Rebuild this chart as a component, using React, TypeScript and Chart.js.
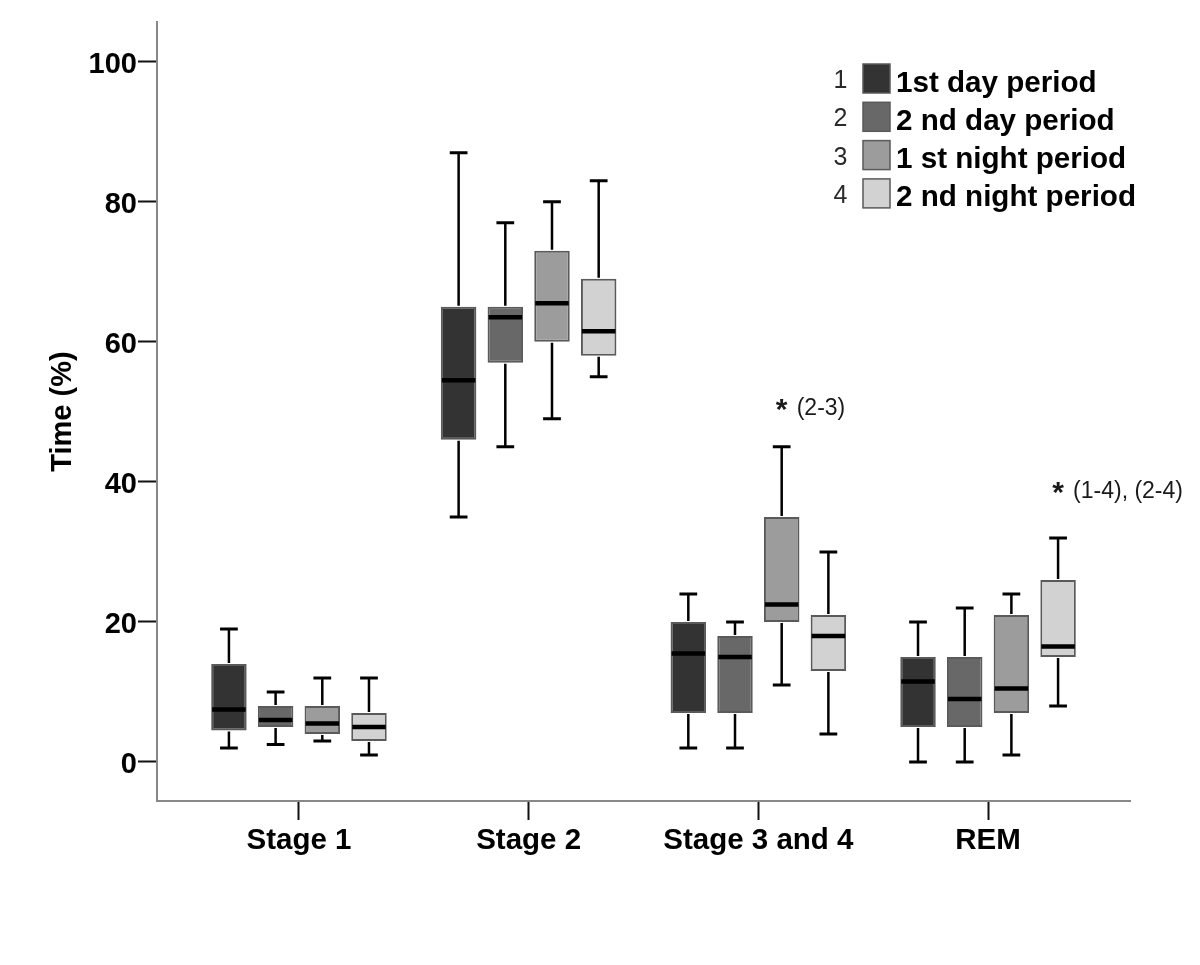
import React, { useEffect, useRef } from 'react';
import { Chart, registerables } from 'chart.js';

Chart.register(...registerables);

// ---- data ----
const categories = ['Stage 1', 'Stage 2', 'Stage 3 and 4', 'REM'];
const periods = ['1st day period', '2 nd day period', '1 st night period', '2 nd night period'];
const periodNumbers = ['1', '2', '3', '4'];
const periodFills = ['#333333', '#686868', '#9c9c9c', '#d2d2d2'];

// each row = one period, columns follow `categories`
const minVals = [
  [2, 35, 2, 0],
  [2.5, 45, 2, 0],
  [3, 49, 11, 1],
  [1, 55, 4, 8],
];
const q1Vals = [
  [4.5, 46, 7, 5],
  [5, 57, 7, 5],
  [4, 60, 20, 7],
  [3, 58, 13, 15],
];
const medianVals = [
  [7.5, 54.5, 15.5, 11.5],
  [6, 63.5, 15, 9],
  [5.5, 65.5, 22.5, 10.5],
  [5, 61.5, 18, 16.5],
];
const q3Vals = [
  [14, 65, 20, 15],
  [8, 65, 18, 15],
  [8, 73, 35, 21],
  [7, 69, 21, 26],
];
const maxVals = [
  [19, 87, 24, 20],
  [10, 77, 20, 22],
  [12, 80, 45, 24],
  [12, 83, 30, 32],
];
const yTickValues = [0, 20, 40, 60, 80, 100];
const xTickValues = [1, 2, 3, 4];

// significance notes
const sigLabels = ['(2-3)', '(1-4), (2-4)'];
const sigCategory = [3, 4];
const sigPeriod = [3, 4];
const sigValue = [49.6, 37.7];

const FONT = "'Liberation Sans', Arial, Helvetica, sans-serif";

const boxPlugin = {
  id: 'boxWhiskers',
  afterDatasetsDraw(chart: any) {
    const { ctx } = chart;
    const y = chart.scales.y;
    ctx.save();
    chart.data.datasets.forEach((_ds: any, di: number) => {
      const meta = chart.getDatasetMeta(di);
      meta.data.forEach((bar: any, ci: number) => {
        const { x, width } = bar.getProps(['x', 'width'], true);
        const yMin = y.getPixelForValue(minVals[di][ci]);
        const yQ1 = y.getPixelForValue(q1Vals[di][ci]);
        const yMed = y.getPixelForValue(medianVals[di][ci]);
        const yQ3 = y.getPixelForValue(q3Vals[di][ci]);
        const yMax = y.getPixelForValue(maxVals[di][ci]);
        const cap = width * 0.5;
        ctx.strokeStyle = '#000';
        ctx.lineCap = 'butt';
        ctx.lineWidth = 2.5;
        ctx.beginPath();
        ctx.moveTo(x, yMax);
        ctx.lineTo(x, yQ3 - 1);
        ctx.moveTo(x, yQ1 + 1);
        ctx.lineTo(x, yMin);
        ctx.stroke();
        ctx.lineWidth = 3;
        ctx.beginPath();
        ctx.moveTo(x - cap / 2, yMax);
        ctx.lineTo(x + cap / 2, yMax);
        ctx.moveTo(x - cap / 2, yMin);
        ctx.lineTo(x + cap / 2, yMin);
        ctx.stroke();
        ctx.lineWidth = 4.5;
        ctx.beginPath();
        ctx.moveTo(x - width / 2 + 1, yMed);
        ctx.lineTo(x + width / 2 - 1, yMed);
        ctx.stroke();
      });
    });
    // significance annotations
    ctx.fillStyle = '#1a1a1a';
    ctx.textBaseline = 'alphabetic';
    sigLabels.forEach((label, i) => {
      const meta = chart.getDatasetMeta(sigPeriod[i] - 1);
      const bar = meta.data[sigCategory[i] - 1];
      const { x } = bar.getProps(['x'], true);
      const py = y.getPixelForValue(sigValue[i]);
      ctx.font = `bold 30px ${FONT}`;
      ctx.textAlign = 'center';
      ctx.fillText('*', x, py + 4);
      ctx.font = `23px ${FONT}`;
      ctx.textAlign = 'left';
      ctx.fillText(label, x + 15, py);
    });
    ctx.restore();
  },
};

const legendPlugin = {
  id: 'customLegend',
  afterDraw(chart: any) {
    const { ctx } = chart;
    ctx.save();
    periods.forEach((label, i) => {
      const top = 64 + i * 38.3;
      ctx.fillStyle = periodFills[i];
      ctx.fillRect(863, top, 27, 29);
      ctx.strokeStyle = '#5a5a5a';
      ctx.lineWidth = 1.5;
      ctx.strokeRect(863, top, 27, 29);
      ctx.fillStyle = '#2a2a2a';
      ctx.font = `25px ${FONT}`;
      ctx.textAlign = 'center';
      ctx.textBaseline = 'alphabetic';
      ctx.fillText(periodNumbers[i], 840.5, top + 24);
      ctx.fillStyle = '#000';
      ctx.font = `bold 29.6px ${FONT}`;
      ctx.textAlign = 'left';
      ctx.fillText(label, 896, top + 27.5);
    });
    ctx.restore();
  },
};

export default function App() {
  const canvasRef = useRef<HTMLCanvasElement | null>(null);

  useEffect(() => {
    if (!canvasRef.current) return;
    const datasets = periods.map((p, di) => ({
      label: p,
      data: categories.map((_c, ci) => ({ x: xTickValues[ci], y: [q1Vals[di][ci], q3Vals[di][ci]] })),
      backgroundColor: periodFills[di],
      borderColor: '#5a5a5a',
      borderWidth: 2,
      borderSkipped: false,
      categoryPercentage: 0.813,
      barPercentage: 0.76,
    }));
    const chart = new Chart(canvasRef.current, {
      type: 'bar',
      data: { datasets } as any,
      plugins: [boxPlugin, legendPlugin],
      options: {
        animation: false,
        responsive: false,
        devicePixelRatio: 1,
        layout: { padding: { left: 0, top: 22, right: 70, bottom: 0 } },
        plugins: {
          legend: { display: false },
          tooltip: { enabled: false },
          title: { display: false },
        },
        scales: {
          x: {
            type: 'linear',
            min: 0.382,
            max: 4.618,
            offset: false,
            afterBuildTicks: (scale: any) => {
              scale.ticks = xTickValues.map((v) => ({ value: v }));
            },
            afterFit: (scale: any) => {
              scale.height = 164;
            },
            grid: {
              display: true,
              offset: false,
              drawOnChartArea: false,
              drawTicks: true,
              tickLength: 19,
              tickWidth: 2,
              tickColor: '#111',
            },
            border: { display: true, color: '#888', width: 2 },
            ticks: {
              autoSkip: false,
              maxRotation: 0,
              padding: 3,
              color: '#000',
              font: { family: FONT, size: 29.5, weight: 'bold' },
              callback: (v: any) => categories[Number(v) - 1] ?? '',
            },
          },
          y: {
            type: 'linear',
            min: -5.57,
            max: 105.67,
            afterBuildTicks: (scale: any) => {
              scale.ticks = yTickValues.map((v) => ({ value: v }));
            },
            afterFit: (scale: any) => {
              scale.width = 157;
            },
            grid: {
              display: true,
              drawOnChartArea: false,
              drawTicks: true,
              tickLength: 19,
              tickWidth: 2,
              tickColor: '#111',
            },
            border: { display: true, color: '#888', width: 2 },
            ticks: {
              padding: 1,
              labelOffset: 3,
              color: '#000',
              font: { family: FONT, size: 29, weight: 'bold' },
            },
            title: {
              display: true,
              text: 'Time (%)',
              color: '#000',
              font: { family: FONT, size: 29, weight: 'bold' },
              padding: { top: 45.6, bottom: 0 },
            },
          },
        },
      } as any,
    });
    return () => chart.destroy();
  }, []);

  return (
    <div style={{ position: 'fixed', left: 0, top: 0, width: 1200, height: 965, background: '#fff' }}>
      <canvas ref={canvasRef} width={1200} height={965} style={{ width: 1200, height: 965, display: 'block' }} />
    </div>
  );
}
